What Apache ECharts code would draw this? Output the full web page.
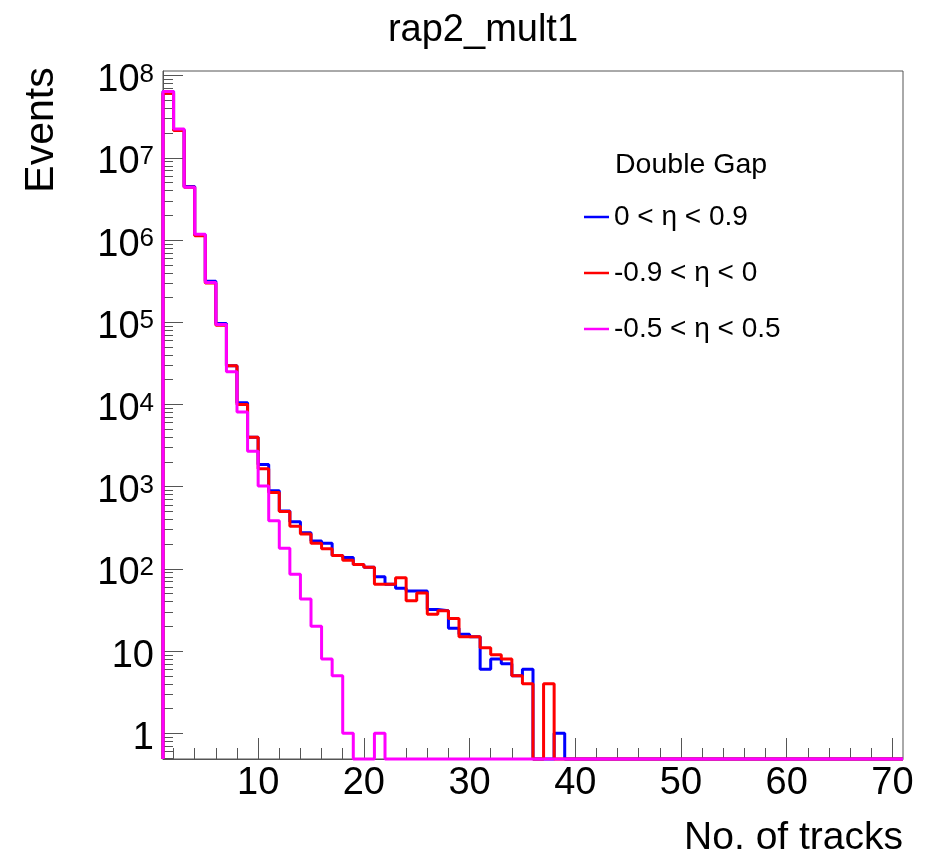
<!DOCTYPE html>
<html>
<head>
<meta charset="utf-8">
<script src="https://cdn.jsdelivr.net/npm/echarts@6/dist/echarts.min.js"></script>
<style>
  html, body { margin: 0; padding: 0; background: #ffffff; }
  #chart { width: 925px; height: 857px; }
</style>
</head>
<body>
<div id="chart"></div>
<script>
// Track-multiplicity histograms: 70 unit-wide bins starting at 1
const binLow = 1;
const binHigh = 71;

// Events per bin, bins 1..70
const eventsEtaPos = [
  6.4e7, 2.2e7, 4.5e6, 1.16e6, 3.15e5, 9.7e4, 2.95e4, 1.05e4, 4.0e3, 1.86e3,
  890, 507, 375, 276, 218, 205, 146, 138, 113, 105,
  80, 65, 58, 54, 54, 32, 31, 19, 16, 15,
  6, 8, 7, 5, 6, 0, 0, 1, 0, 0,
  0, 0, 0, 0, 0, 0, 0, 0, 0, 0,
  0, 0, 0, 0, 0, 0, 0, 0, 0, 0,
  0, 0, 0, 0, 0, 0, 0, 0, 0, 0
];
const eventsEtaNeg = [
  6.1e7, 2.15e7, 4.4e6, 1.13e6, 3.0e5, 9.2e4, 2.95e4, 1.0e4, 4.0e3, 1.65e3,
  850, 500, 331, 266, 205, 176, 146, 127, 113, 105,
  65, 65, 78, 41, 51, 28, 31, 25, 15, 15,
  11, 9, 8, 5, 4, 0, 4, 0, 0, 0,
  0, 0, 0, 0, 0, 0, 0, 0, 0, 0,
  0, 0, 0, 0, 0, 0, 0, 0, 0, 0,
  0, 0, 0, 0, 0, 0, 0, 0, 0, 0
];
const eventsEtaCentral = [
  6.4e7, 2.25e7, 4.4e6, 1.18e6, 3.05e5, 9.4e4, 2.5e4, 8.1e3, 2.7e3, 1.02e3,
  386, 178, 86, 43, 20, 8, 5, 1, 0, 0,
  1, 0, 0, 0, 0, 0, 0, 0, 0, 0,
  0, 0, 0, 0, 0, 0, 0, 0, 0, 0,
  0, 0, 0, 0, 0, 0, 0, 0, 0, 0,
  0, 0, 0, 0, 0, 0, 0, 0, 0, 0,
  0, 0, 0, 0, 0, 0, 0, 0, 0, 0
];

const seriesNames = ['0 < η < 0.9', '-0.9 < η < 0', '-0.5 < η < 0.5'];
const seriesColors = ['#0000ff', '#ff0000', '#ff00ff'];
const xMajorTicks = [10, 20, 30, 40, 50, 60, 70];
const xMinorTicks = [2, 4, 6, 8, 12, 14, 16, 18, 22, 24, 26, 28, 32, 34, 36, 38,
  42, 44, 46, 48, 52, 54, 56, 58, 62, 64, 66, 68];

// Vertical range of the log axis
const yMin = 0.487;
const yMax = 1.14e8;

const FONT = "'Liberation Sans', Arial, Helvetica, sans-serif";

// Empty bins sit on the lower edge of the frame
function histSteps(counts) {
  const pts = [[binLow, yMin]];
  counts.forEach((c, i) => pts.push([binLow + i, c > 0 ? c : yMin]));
  const last = counts[counts.length - 1];
  pts.push([binHigh, last > 0 ? last : yMin]);
  pts.push([binHigh, yMin]);
  return pts;
}

// Minor ticks of the log axis (2..9 per decade), placed on a log10 helper axis
const yMinorLog = [];
for (let d = -1; d <= 8; d++) {
  for (let k = 2; k <= 9; k++) {
    const v = k * Math.pow(10, d);
    if (v >= yMin && v <= yMax) yMinorLog.push(Math.log10(v));
  }
}

const chart = echarts.init(document.getElementById('chart'));

const tickStyle = { color: '#555', width: 1 };

chart.setOption({
  animation: false,
  backgroundColor: '#ffffff',
  grid: {
    left: 163, right: 22, top: 71, bottom: 98,
    show: true, borderColor: '#555', borderWidth: 1
  },
  xAxis: [
    {
      type: 'value', min: binLow, max: binHigh, position: 'bottom',
      axisLine: { show: true, onZero: false, lineStyle: tickStyle },
      axisTick: { show: true, inside: true, length: 21, lineStyle: tickStyle, customValues: xMajorTicks },
      axisLabel: {
        customValues: xMajorTicks, margin: 6,
        fontFamily: FONT, fontSize: 38, color: '#000'
      },
      splitLine: { show: false }
    },
    {
      type: 'value', min: binLow, max: binHigh, gridIndex: 0, position: 'bottom',
      axisLine: { show: false, onZero: false },
      axisTick: { show: true, inside: true, length: 11, lineStyle: tickStyle, customValues: xMinorTicks },
      axisLabel: { show: false },
      splitLine: { show: false }
    }
  ],
  yAxis: [
    {
      type: 'log', logBase: 10, min: yMin, max: yMax, position: 'left',
      axisLine: { show: true, onZero: false, lineStyle: tickStyle },
      axisTick: { show: true, inside: true, length: 20, lineStyle: tickStyle },
      axisLabel: {
        margin: 9, showMinLabel: false, showMaxLabel: false,
        padding: [10, 0, 0, 0],
        fontFamily: FONT, color: '#000',
        formatter: function (v) {
          const e = Math.round(Math.log10(v));
          if (Math.abs(Math.log10(v) - e) > 1e-6) return '';
          if (e === 0) return '{p|1}';
          if (e === 1) return '{p|10}';
          return '{b|10}{s|' + e + '}';
        },
        rich: {
          p: { fontFamily: FONT, fontSize: 38, lineHeight: 38, padding: [8, 0, 0, 0], verticalAlign: 'bottom' },
          b: { fontFamily: FONT, fontSize: 38, lineHeight: 38, padding: [24, 0, 0, 0], verticalAlign: 'bottom' },
          s: { fontFamily: FONT, fontSize: 26, lineHeight: 26, verticalAlign: 'top' }
        }
      },
      splitLine: { show: false }
    },
    {
      type: 'value', min: Math.log10(yMin), max: Math.log10(yMax), gridIndex: 0, position: 'left',
      axisLine: { show: false, onZero: false },
      axisTick: { show: true, inside: true, length: 10, lineStyle: tickStyle, customValues: yMinorLog },
      axisLabel: { show: false },
      splitLine: { show: false }
    }
  ],
  legend: {
    orient: 'vertical', left: 584, top: 203, padding: 0,
    itemWidth: 25, itemHeight: 2.5, itemGap: 28, icon: 'rect',
    textStyle: { fontFamily: FONT, fontSize: 28, color: '#000' },
    data: seriesNames
  },
  series: [eventsEtaPos, eventsEtaNeg, eventsEtaCentral].map((counts, i) => ({
    name: seriesNames[i],
    type: 'line',
    step: 'end',
    xAxisIndex: 0, yAxisIndex: 0,
    data: histSteps(counts),
    showSymbol: false,
    clip: false,
    color: seriesColors[i],
    lineStyle: { color: seriesColors[i], width: 3 },
    z: 2 + i
  })),
  graphic: [
    {
      type: 'text', x: 483, y: 31,
      style: { text: 'rap2_mult1', fontFamily: FONT, fontSize: 38, fill: '#000', align: 'center', verticalAlign: 'middle' }
    },
    {
      type: 'text', x: 42, y: 130, rotation: Math.PI / 2,
      style: { text: 'Events', fontFamily: FONT, fontSize: 41, fill: '#000', align: 'center', verticalAlign: 'middle' }
    },
    {
      type: 'text', x: 903, y: 838,
      style: { text: 'No. of tracks', fontFamily: FONT, fontSize: 39, fill: '#000', align: 'right', verticalAlign: 'middle' }
    },
    {
      type: 'text', x: 615, y: 165,
      style: { text: 'Double Gap', fontFamily: FONT, fontSize: 28.5, fill: '#000', align: 'left', verticalAlign: 'middle' }
    }
  ]
});
</script>
</body>
</html>
